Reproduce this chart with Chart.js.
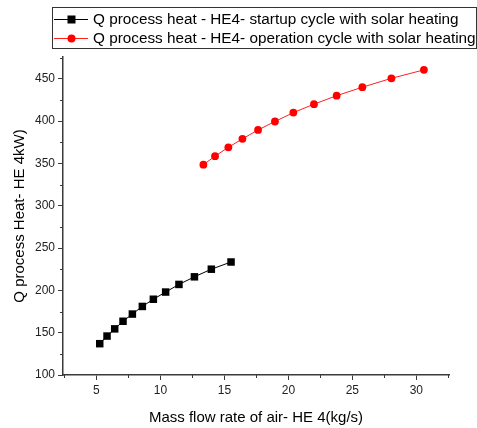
<!DOCTYPE html>
<html>
<head>
<meta charset="utf-8">
<script src="https://cdn.jsdelivr.net/npm/chart.js@4/dist/chart.umd.min.js"></script>
<style>
  html, body { margin: 0; padding: 0; background: #fff; }
  #wrap { width: 477px; height: 428px; }
</style>
</head>
<body>
<div id="wrap"><canvas id="heat-chart" width="477" height="428"></canvas></div>
<script>
// Startup cycle (black squares)
const startupFlow = [5.26, 5.83, 6.43, 7.08, 7.81, 8.59, 9.45, 10.41, 11.45, 12.66, 13.98, 15.52];
const startupHeat = [137, 146, 154.5, 163.5, 172, 181, 189.5, 198, 207, 216, 225, 233.5];

// Operation cycle (red circles)
const operationFlow = [13.36, 14.27, 15.31, 16.41, 17.63, 18.95, 20.39, 22.0, 23.77, 25.78, 28.05, 30.59];
const operationHeat = [348.5, 358.5, 369, 379, 389.5, 399.5, 410, 420, 430, 440, 450.5, 460.5];

const seriesLabels = [
    'Q process heat - HE4- startup cycle with solar heating',
    'Q process heat - HE4- operation cycle with solar heating'
];

const xTitle = 'Mass flow rate of air- HE 4(kg/s)';
const yTitle = 'Q process Heat- HE 4kW)';

const FONT = 'Arial, "Liberation Sans", sans-serif';
const AXIS_COLOR = '#3a3a3a';

function toPoints(xs, ys) {
    return xs.map((x, i) => ({ x: x, y: ys[i] }));
}

// Short minor ticks halfway between the labelled ones
const minorTicks = {
    id: 'minorTicks',
    afterDraw(chart) {
        const ctx = chart.ctx;
        const xs = chart.scales.x;
        const ys = chart.scales.y;
        ctx.save();
        ctx.strokeStyle = AXIS_COLOR;
        ctx.lineWidth = 1;
        ctx.beginPath();
        for (let v = 2.5; v < xs.max; v += 5) {
            if (v < xs.min) continue;
            const px = Math.round(xs.getPixelForValue(v)) + 0.5;
            ctx.moveTo(px, ys.bottom);
            ctx.lineTo(px, ys.bottom + 3);
        }
        for (let v = 125; v < ys.max; v += 50) {
            const py = Math.round(ys.getPixelForValue(v)) + 0.5;
            ctx.moveTo(xs.left, py);
            ctx.lineTo(xs.left - 3, py);
        }
        ctx.stroke();
        ctx.restore();
    }
};

// Boxed legend across the top
const boxLegend = {
    id: 'boxLegend',
    afterDraw(chart) {
        const ctx = chart.ctx;
        const left = 52.5, top = 7.5, right = 476.5, bottom = 48.5;
        ctx.save();
        ctx.strokeStyle = '#333';
        ctx.lineWidth = 1;
        ctx.strokeRect(left, top, right - left, bottom - top);

        ctx.font = '15.3px ' + FONT;
        ctx.textBaseline = 'middle';
        ctx.fillStyle = '#000';
        const rows = [19.5, 38.5];
        chart.data.datasets.forEach((ds, i) => {
            const y = rows[i];
            ctx.strokeStyle = ds.borderColor;
            ctx.lineWidth = 1;
            ctx.beginPath();
            ctx.moveTo(54, y);
            ctx.lineTo(88, y);
            ctx.stroke();
            ctx.fillStyle = ds.pointBackgroundColor;
            if (ds.pointStyle === 'rect') {
                ctx.fillRect(67.5, y - 4, 8, 8);
            } else {
                ctx.beginPath();
                ctx.arc(71.5, y, 4, 0, Math.PI * 2);
                ctx.fill();
            }
            ctx.fillStyle = '#000';
            ctx.fillText(seriesLabels[i], 93, y + 0.5);
        });
        ctx.restore();
    }
};

const ctx = document.getElementById('heat-chart').getContext('2d');

new Chart(ctx, {
    type: 'scatter',
    data: {
        datasets: [{
            label: seriesLabels[0],
            data: toPoints(startupFlow, startupHeat),
            showLine: true,
            borderColor: '#000000',
            borderWidth: 1,
            pointStyle: 'rect',
            pointRadius: 5.3,
            pointBackgroundColor: '#000000',
            pointBorderWidth: 0
        }, {
            label: seriesLabels[1],
            data: toPoints(operationFlow, operationHeat),
            showLine: true,
            borderColor: '#ff2020',
            borderWidth: 1,
            pointStyle: 'circle',
            pointRadius: 3.9,
            pointBackgroundColor: '#ff0000',
            pointBorderWidth: 0
        }]
    },
    options: {
        responsive: false,
        animation: false,
        layout: {
            padding: { top: 57, right: 28, left: 0, bottom: 0 }
        },
        plugins: {
            legend: { display: false },
            tooltip: { enabled: false }
        },
        scales: {
            x: {
                type: 'linear',
                min: 2.39,
                max: 32.55,
                afterFit: scale => { scale.height = 53; },
                border: { color: AXIS_COLOR, width: 1.5 },
                grid: {
                    drawOnChartArea: false,
                    tickLength: 5,
                    tickColor: AXIS_COLOR
                },
                ticks: {
                    stepSize: 5,
                    includeBounds: false,
                    maxRotation: 0,
                    padding: 3,
                    color: '#222',
                    font: { family: FONT, size: 12 }
                },
                title: {
                    display: true,
                    text: xTitle,
                    color: '#000',
                    font: { family: FONT, size: 15 },
                    padding: { top: 0, bottom: 1 }
                }
            },
            y: {
                type: 'linear',
                min: 100,
                max: 475.7,
                afterFit: scale => { scale.width = 63; },
                border: { color: AXIS_COLOR, width: 1.5 },
                grid: {
                    drawOnChartArea: false,
                    tickLength: 5,
                    tickColor: AXIS_COLOR
                },
                ticks: {
                    stepSize: 50,
                    includeBounds: false,
                    padding: 3,
                    color: '#222',
                    font: { family: FONT, size: 12 }
                },
                title: {
                    display: true,
                    text: yTitle,
                    color: '#000',
                    font: { family: FONT, size: 15 },
                    padding: { top: 11, bottom: 0 }
                }
            }
        }
    },
    plugins: [minorTicks, boxLegend]
});
</script>
</body>
</html>
